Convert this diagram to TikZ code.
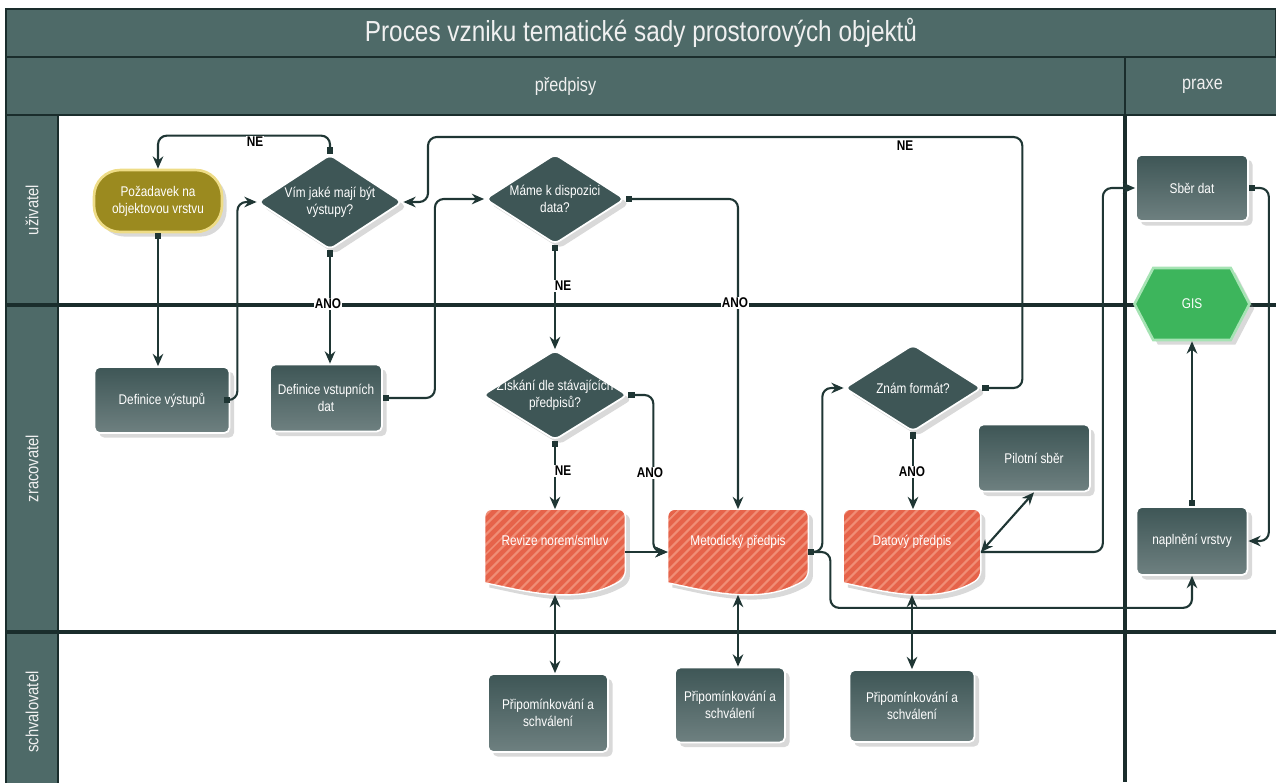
\documentclass[tikz,border=0pt]{standalone}
\usepackage{fontspec}
\setmainfont{Liberation Sans}[FakeStretch=0.84]
\usepackage{xcolor}
\usepackage{tikz}
\usetikzlibrary{shapes,arrows.meta,positioning,calc,shadows,patterns.meta,backgrounds}

\definecolor{headcol}{HTML}{4E6A68}
\definecolor{gridcol}{HTML}{1A2D2C}
\definecolor{boxcol}{HTML}{3E5656}
\definecolor{linecol}{HTML}{1F3634}
\definecolor{olivecol}{HTML}{9B8A1F}
\definecolor{olivebord}{HTML}{EEDC86}
\definecolor{doccol}{HTML}{E6634A}
\definecolor{docline}{HTML}{F08E76}
\definecolor{giscol}{HTML}{3DB55C}
\definecolor{gisbord}{HTML}{A6E3B4}

% outline of a document symbol round a named node
\newcommand{\docoutline}[1]{(#1.north west) [rounded corners=4pt] -- (#1.north east) -- ($(#1.south east)+(0,-17)$) [sharp corners] .. controls ($(#1.south east)+(-48,12)$) and ($(#1.south west)+(35,-5)$) .. ($(#1.south west)+(0,-12)$) [rounded corners=4pt] -- cycle}

\begin{document}
\begin{tikzpicture}[x=0.02cm, y=-0.02cm, >={Stealth[length=7pt,width=6pt]},
        head/.style={draw=gridcol, line width=1.2pt, fill=headcol, text=white!94!black, inner sep=0pt},
        lanehead/.style={head, rotate=90, font=\fontsize{10}{12}\selectfont},
        laneline/.style={draw=gridcol, line width=2pt},
        task/.style={draw=white, line width=1pt, rectangle, rounded corners=3pt, top color=boxcol, bottom color=boxcol!75!white, text=white, align=center, font=\fontsize{8}{9.5}\selectfont, drop shadow={opacity=0.3}},
        start/.style={task, rounded corners=15pt, draw=olivebord, line width=1.5pt, top color=olivecol, bottom color=olivecol},
        decision/.style={diamond, draw=white, line width=1pt, rounded corners=3pt, fill=boxcol, inner sep=0pt, drop shadow={opacity=0.3}},
        dtext/.style={text=white, align=center, font=\fontsize{8}{9.5}\selectfont},
        docnode/.style={rectangle, minimum width=2.8cm, minimum height=1.7cm, text depth=13pt, text=white, align=center, font=\fontsize{8}{9.5}\selectfont},
        docfill/.style={draw=white, line width=0.8pt, drop shadow={opacity=0.3}, preaction={fill=doccol}, pattern={Lines[angle=45,distance=4pt,line width=1.3pt]}, pattern color=docline},
        gis/.style={signal, signal to=east and west, signal pointer angle=125, fill=giscol, draw=gisbord, line width=1.5pt, text=white, font=\fontsize{8}{9.5}\selectfont, drop shadow={opacity=0.3}},
        flow/.style={draw=linecol, line width=1.2pt, rounded corners=5pt, arrows={Square[length=3.5pt,width=3.5pt]->}},
        link/.style={draw=linecol, line width=1.2pt, rounded corners=5pt, ->},
        twoway/.style={draw=linecol, line width=1.2pt, <->},
        lbl/.style={font=\bfseries\fontsize{8}{9}\selectfont, fill=white, inner sep=0.5pt}
    ]
    \useasboundingbox (0,0) rectangle (1276,782);

    % header and lanes
    \node [head, minimum width=25.4cm, minimum height=0.96cm, font=\fontsize{16.5}{19}\selectfont] (title) at (641,33) {Proces vzniku tematické sady prostorových objektů};
    \node [head, minimum width=22.38cm, minimum height=1.16cm, font=\fontsize{11}{13}\selectfont] (predpisy) at (565.5,86) {předpisy};
    \node [head, minimum width=3.1cm, minimum height=1.16cm, font=\fontsize{11}{13}\selectfont] (praxe) at (1202.5,86) {praxe};
    \node [lanehead, minimum width=3.8cm, minimum height=1.04cm] (uzivatel) at (32,210) {uživatel};
    \node [lanehead, minimum width=6.54cm, minimum height=1.04cm] (zracovatel) at (32,468.5) {zracovatel};
    \node [lanehead, minimum width=3.2cm, minimum height=1.04cm] (schvalovatel) at (32,712) {schvalovatel};
    \draw [laneline] (6,305) -- (1276,305);
    \draw [laneline] (6,632) -- (1276,632);
    \draw [laneline] (1125,115) -- (1125,782);

    % uzivatel
    \node [start, minimum width=2.56cm, minimum height=1.24cm] (pozad) at (158,201) {Požadavek na\\objektovou vrstvu};
    \node [decision, minimum width=2.9cm, minimum height=1.9cm, label={[dtext]center:Vím jaké mají být\\výstupy?}] (vim) at (330,202) {};
    \node [decision, minimum width=2.8cm, minimum height=1.8cm, label={[dtext]center:Máme k dispozici\\data?}] (mame) at (555,199) {};
    \node [task, minimum width=2.24cm, minimum height=1.32cm] (sber) at (1192,188) {Sběr dat};
    \node [gis, minimum width=2.3cm, minimum height=1.44cm] (gis) at (1192,304) {GIS};

    % zracovatel
    \node [task, minimum width=2.7cm, minimum height=1.32cm] (defvyst) at (162,400) {Definice výstupů};
    \node [task, minimum width=2.24cm, minimum height=1.34cm] (defvst) at (326,398) {Definice vstupních\\dat};
    \node [decision, minimum width=2.9cm, minimum height=1.8cm, label={[dtext]center:Získání dle stávajících\\předpisů?}] (ziskani) at (555,395) {};
    \node [decision, minimum width=2.74cm, minimum height=1.74cm, label={[dtext]center:Znám formát?}] (znam) at (913,388) {};
    \node [task, minimum width=2.24cm, minimum height=1.34cm] (pilot) at (1034,458) {Pilotní sběr};
    \node [docnode] (revize) at (555,552) {Revize norem/smluv};
    \node [docnode] (metod) at (738,552) {Metodický předpis};
    \node [docnode, minimum width=2.74cm] (datovy) at (912,552) {Datový předpis};
    \node [task, minimum width=2.22cm, minimum height=1.36cm] (naplneni) at (1192,541) {naplnění vrstvy};
    \begin{scope}[on background layer]
        \foreach \d in {revize,metod,datovy}
            \path [docfill] \docoutline{\d};
    \end{scope}

    % schvalovatel
    \node [task, minimum width=2.4cm, minimum height=1.56cm] (prip1) at (548,713) {Připomínkování a\\schválení};
    \node [task, minimum width=2.2cm, minimum height=1.5cm] (prip2) at (730,705) {Připomínkování a\\schválení};
    \node [task, minimum width=2.5cm, minimum height=1.44cm] (prip3) at (912,706) {Připomínkování a\\schválení};

    % connectors
    \draw [flow] (vim.north) -- ++(0,-18) -| (pozad.north);
    \draw [flow] (pozad.south) -- (pozad.south |- defvyst.north);
    \draw [flow] (defvyst.east) -- ++(7,0) |- (vim.west);
    \draw [flow] (vim.south) -- (vim.south |- defvst.north);
    \draw [flow] (defvst.east) -- ++(52,0) |- (mame.west);
    \draw [flow] (znam.east) -- ++(40,0) |- (428,137) |- (vim.east);
    \draw [flow] (mame.east) -| (metod.north);
    \draw [flow] (mame.south) -- (ziskani.north);
    \draw [flow] (ziskani.south) -- (revize.north);
    \draw [flow] (ziskani.east) -- ++(25,0) |- (metod.west);
    \draw [link] (revize.east) -- (metod.west);
    \draw [flow] (metod.east) -- ++(14,0) |- (znam.west);
    \draw [flow] (metod.east) -- ++(22,0) |- ($(naplneni.south)+(0,32)$) -- (naplneni.south);
    \draw [flow] (znam.south) -- (znam.south |- datovy.north);
    \draw [twoway] (datovy.east) -- (pilot.south);
    \draw [link] (datovy.east) -- ++(122,0) |- (sber.west);
    \draw [flow] (sber.east) -- ++(20,0) |- (naplneni.east);
    \draw [flow] (naplneni.north) -- (gis.south);
    \draw [twoway] (revize.south) -- (revize.south |- prip1.north);
    \draw [twoway] (metod.south) -- (metod.south |- prip2.north);
    \draw [twoway] (datovy.south) -- (datovy.south |- prip3.north);

    % labels
    \node [lbl] (ne1) at (255,142) {NE};
    \node [lbl] (ne2) at (905,146) {NE};
    \node [lbl] (ano1) at (328,304) {ANO};
    \node [lbl] (ano2) at (735,303) {ANO};
    \node [lbl] (ne3) at (563,286) {NE};
    \node [lbl] (ne4) at (563,471) {NE};
    \node [lbl] (ano3) at (650,473) {ANO};
    \node [lbl] (ano4) at (912,472) {ANO};
\end{tikzpicture}
\end{document}
